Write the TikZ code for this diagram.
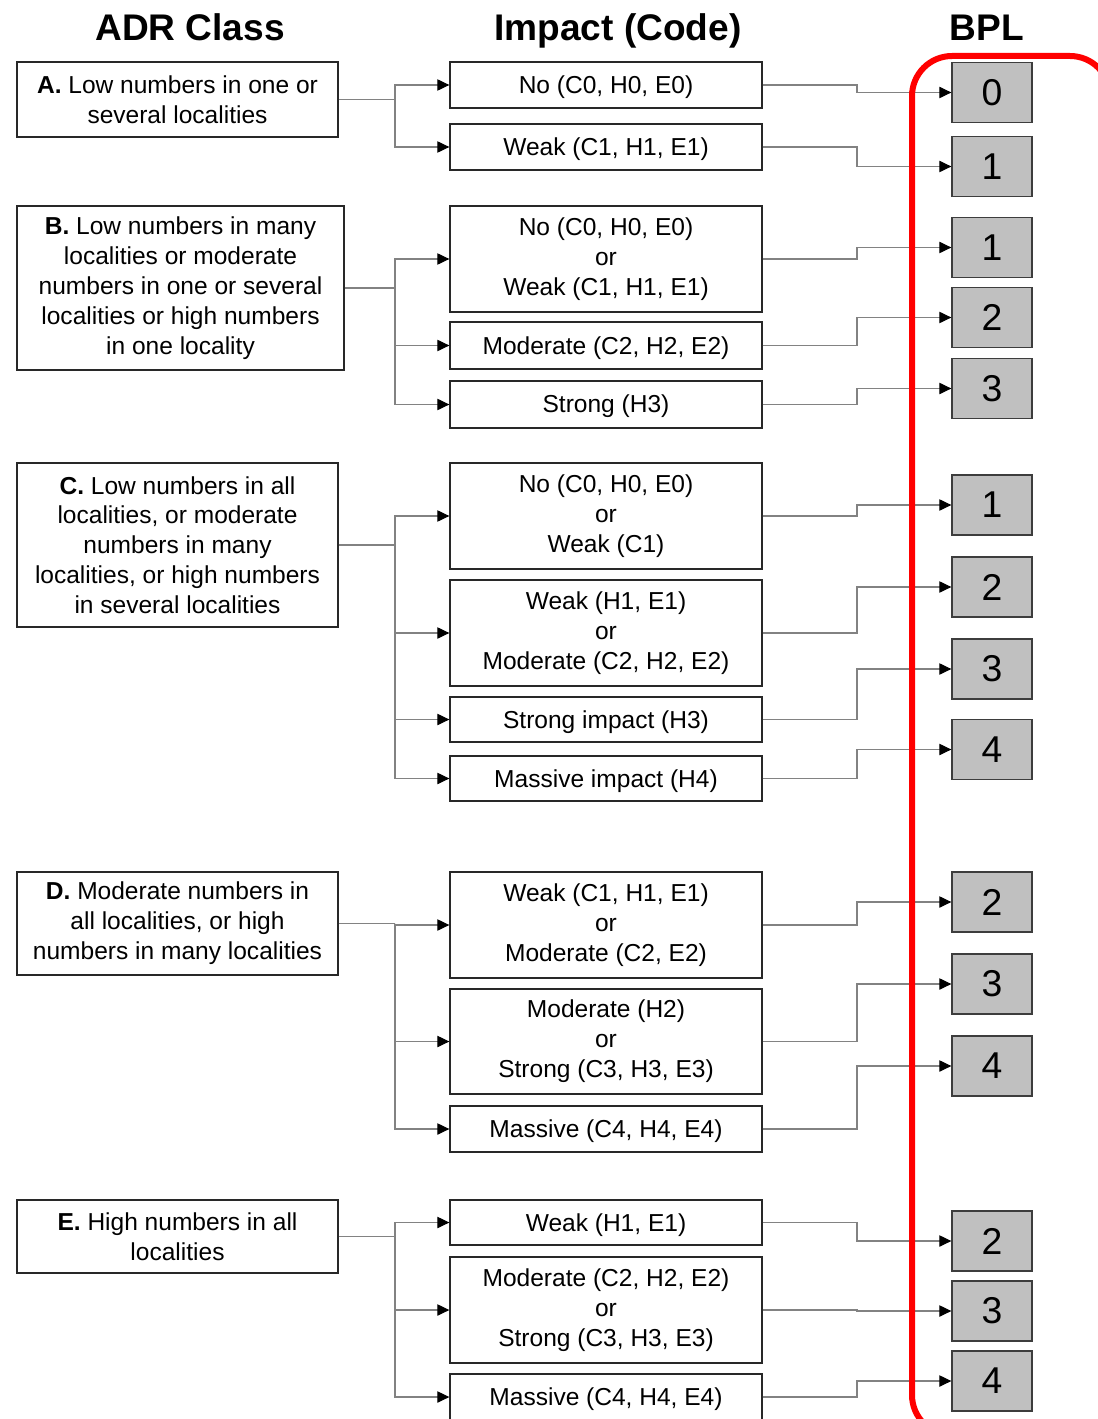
\documentclass[tikz,border=0pt]{standalone}
\usepackage{fontspec}
\setmainfont{Liberation Sans}
\usetikzlibrary{arrows.meta}
\definecolor{connc}{RGB}{130,130,130}
\definecolor{bplfill}{RGB}{192,192,192}
\definecolor{redbox}{RGB}{255,0,0}
\definecolor{edgec}{RGB}{40,40,40}
\begin{document}
\begin{tikzpicture}[x=0.75pt,y=-0.75pt,
  txt/.style={font=\fontsize{18.4}{22.4}\selectfont, execute at begin node={\rule{0pt}{0.9em}}},
  sz/.style 2 args={minimum width=#1*0.75pt, minimum height=#2*0.75pt},
  lbox/.style={draw=edgec, line width=1pt, align=center, inner sep=0pt, txt},
  mbox/.style={draw=edgec, line width=1pt, align=center, inner sep=0pt, txt, minimum width=312*0.75pt},
  bpl/.style={draw=edgec!90, fill=bplfill, line width=1pt, inner sep=0pt,
    minimum width=80*0.75pt, minimum height=60*0.75pt, font=\fontsize{28}{30}\selectfont},
  head/.style={font=\fontsize{27.8}{32}\selectfont\bfseries, anchor=base},
  cline/.style={draw=connc, line width=0.8pt},
  carrow/.style={cline, -{Triangle[length=9pt,width=8.5pt,color=black]}},
]
\useasboundingbox (0,0) rectangle (1097,1419);

% headers
\node[head] (h1) at (190,41) {ADR Class};
\node[head] (h2) at (618,41) {Impact (Code)};
\node[head] (h3) at (987,41) {BPL};

\coordinate (xL) at (395,0);
\coordinate (xR) at (857,0);

% left boxes
\node[lbox, sz={321}{75}] (A) at (177.5,99.5) {\textbf{A.} Low numbers in one or\\several localities};
\node[lbox, sz={327}{164}] (B) at (180.5,288) {\textbf{B.} Low numbers in many\\localities or moderate\\numbers in one or several\\localities or high numbers\\in one locality};
\node[lbox, sz={321}{164}] (C) at (177.5,545) {\textbf{C.} Low numbers in all\\localities, or moderate\\numbers in many\\localities, or high numbers\\in several localities};
\node[lbox, sz={321}{103}] (D) at (177.5,923.5) {\textbf{D.} Moderate numbers in\\all localities, or high\\numbers in many localities};
\node[lbox, sz={321}{73}] (E) at (177.5,1236.5) {\textbf{E.} High numbers in all\\localities};

% middle boxes
\node[mbox, minimum height=46*0.75pt] (A1) at (606,85) {No (C0, H0, E0)};
\node[mbox, minimum height=46*0.75pt] (A2) at (606,147) {Weak (C1, H1, E1)};
\node[mbox, minimum height=106*0.75pt] (B1) at (606,259) {No (C0, H0, E0)\\or\\Weak (C1, H1, E1)};
\node[mbox, minimum height=47*0.75pt] (B2) at (606,345.5) {Moderate (C2, H2, E2)};
\node[mbox, minimum height=47*0.75pt] (B3) at (606,404.5) {Strong (H3)};
\node[mbox, minimum height=106*0.75pt] (C1) at (606,516) {No (C0, H0, E0)\\or\\Weak (C1)};
\node[mbox, minimum height=106*0.75pt] (C2) at (606,633) {Weak (H1, E1)\\or\\Moderate (C2, H2, E2)};
\node[mbox, minimum height=45*0.75pt] (C3) at (606,719.5) {Strong impact (H3)};
\node[mbox, minimum height=45*0.75pt] (C4) at (606,778.5) {Massive impact (H4)};
\node[mbox, minimum height=106*0.75pt] (D1) at (606,925) {Weak (C1, H1, E1)\\or\\Moderate (C2, E2)};
\node[mbox, minimum height=105*0.75pt] (D2) at (606,1041.5) {Moderate (H2)\\or\\Strong (C3, H3, E3)};
\node[mbox, minimum height=46*0.75pt] (D3) at (606,1129) {Massive (C4, H4, E4)};
\node[mbox, minimum height=45*0.75pt] (E1) at (606,1222.5) {Weak (H1, E1)};
\node[mbox, minimum height=106*0.75pt] (E2) at (606,1310) {Moderate (C2, H2, E2)\\or\\Strong (C3, H3, E3)};
\node[mbox, minimum height=46*0.75pt] (E3) at (606,1397) {Massive (C4, H4, E4)};

% BPL boxes
\node[bpl] (P1) at (992,92.5) {0};
\node[bpl] (P2) at (992,166.5) {1};
\node[bpl] (P3) at (992,247.5) {1};
\node[bpl] (P4) at (992,317.5) {2};
\node[bpl] (P5) at (992,388.5) {3};
\node[bpl] (P6) at (992,505) {1};
\node[bpl] (P7) at (992,587) {2};
\node[bpl] (P8) at (992,669) {3};
\node[bpl] (P9) at (992,749.5) {4};
\node[bpl] (P10) at (992,902) {2};
\node[bpl] (P11) at (992,984) {3};
\node[bpl] (P12) at (992,1066) {4};
\node[bpl] (P13) at (992,1241) {2};
\node[bpl] (P14) at (992,1311) {3};
\node[bpl] (P15) at (992,1381) {4};

% left connectors
\draw[cline] (A.east) -- (A.east -| xL);
\foreach \t in {A1,A2} \draw[carrow] (A.east -| xL) |- (\t.west);
\draw[cline] (B.east) -- (B.east -| xL);
\foreach \t in {B1,B2,B3} \draw[carrow] (B.east -| xL) |- (\t.west);
\draw[cline] (C.east) -- (C.east -| xL);
\foreach \t in {C1,C2,C3,C4} \draw[carrow] (C.east -| xL) |- (\t.west);
\draw[cline] (D.east) -- (D.east -| xL);
\foreach \t in {D1,D2,D3} \draw[carrow] (D.east -| xL) |- (\t.west);
\draw[cline] (E.east) -- (E.east -| xL);
\foreach \t in {E1,E2,E3} \draw[carrow] (E.east -| xL) |- (\t.west);

% right connectors
\foreach \s/\t in {A1/P1,A2/P2,B1/P3,B2/P4,B3/P5,C1/P6,C2/P7,C3/P8,C4/P9,D1/P10,D2/P11,D3/P12,E1/P13,E2/P14,E3/P15}
  \draw[carrow] (\s.east) -- (\s.east -| xR) |- (\t.west);

% red frame
\draw[redbox, line width=4.5pt, rounded corners=30pt] (912,56) rectangle (1110,1435);
\end{tikzpicture}
\end{document}
